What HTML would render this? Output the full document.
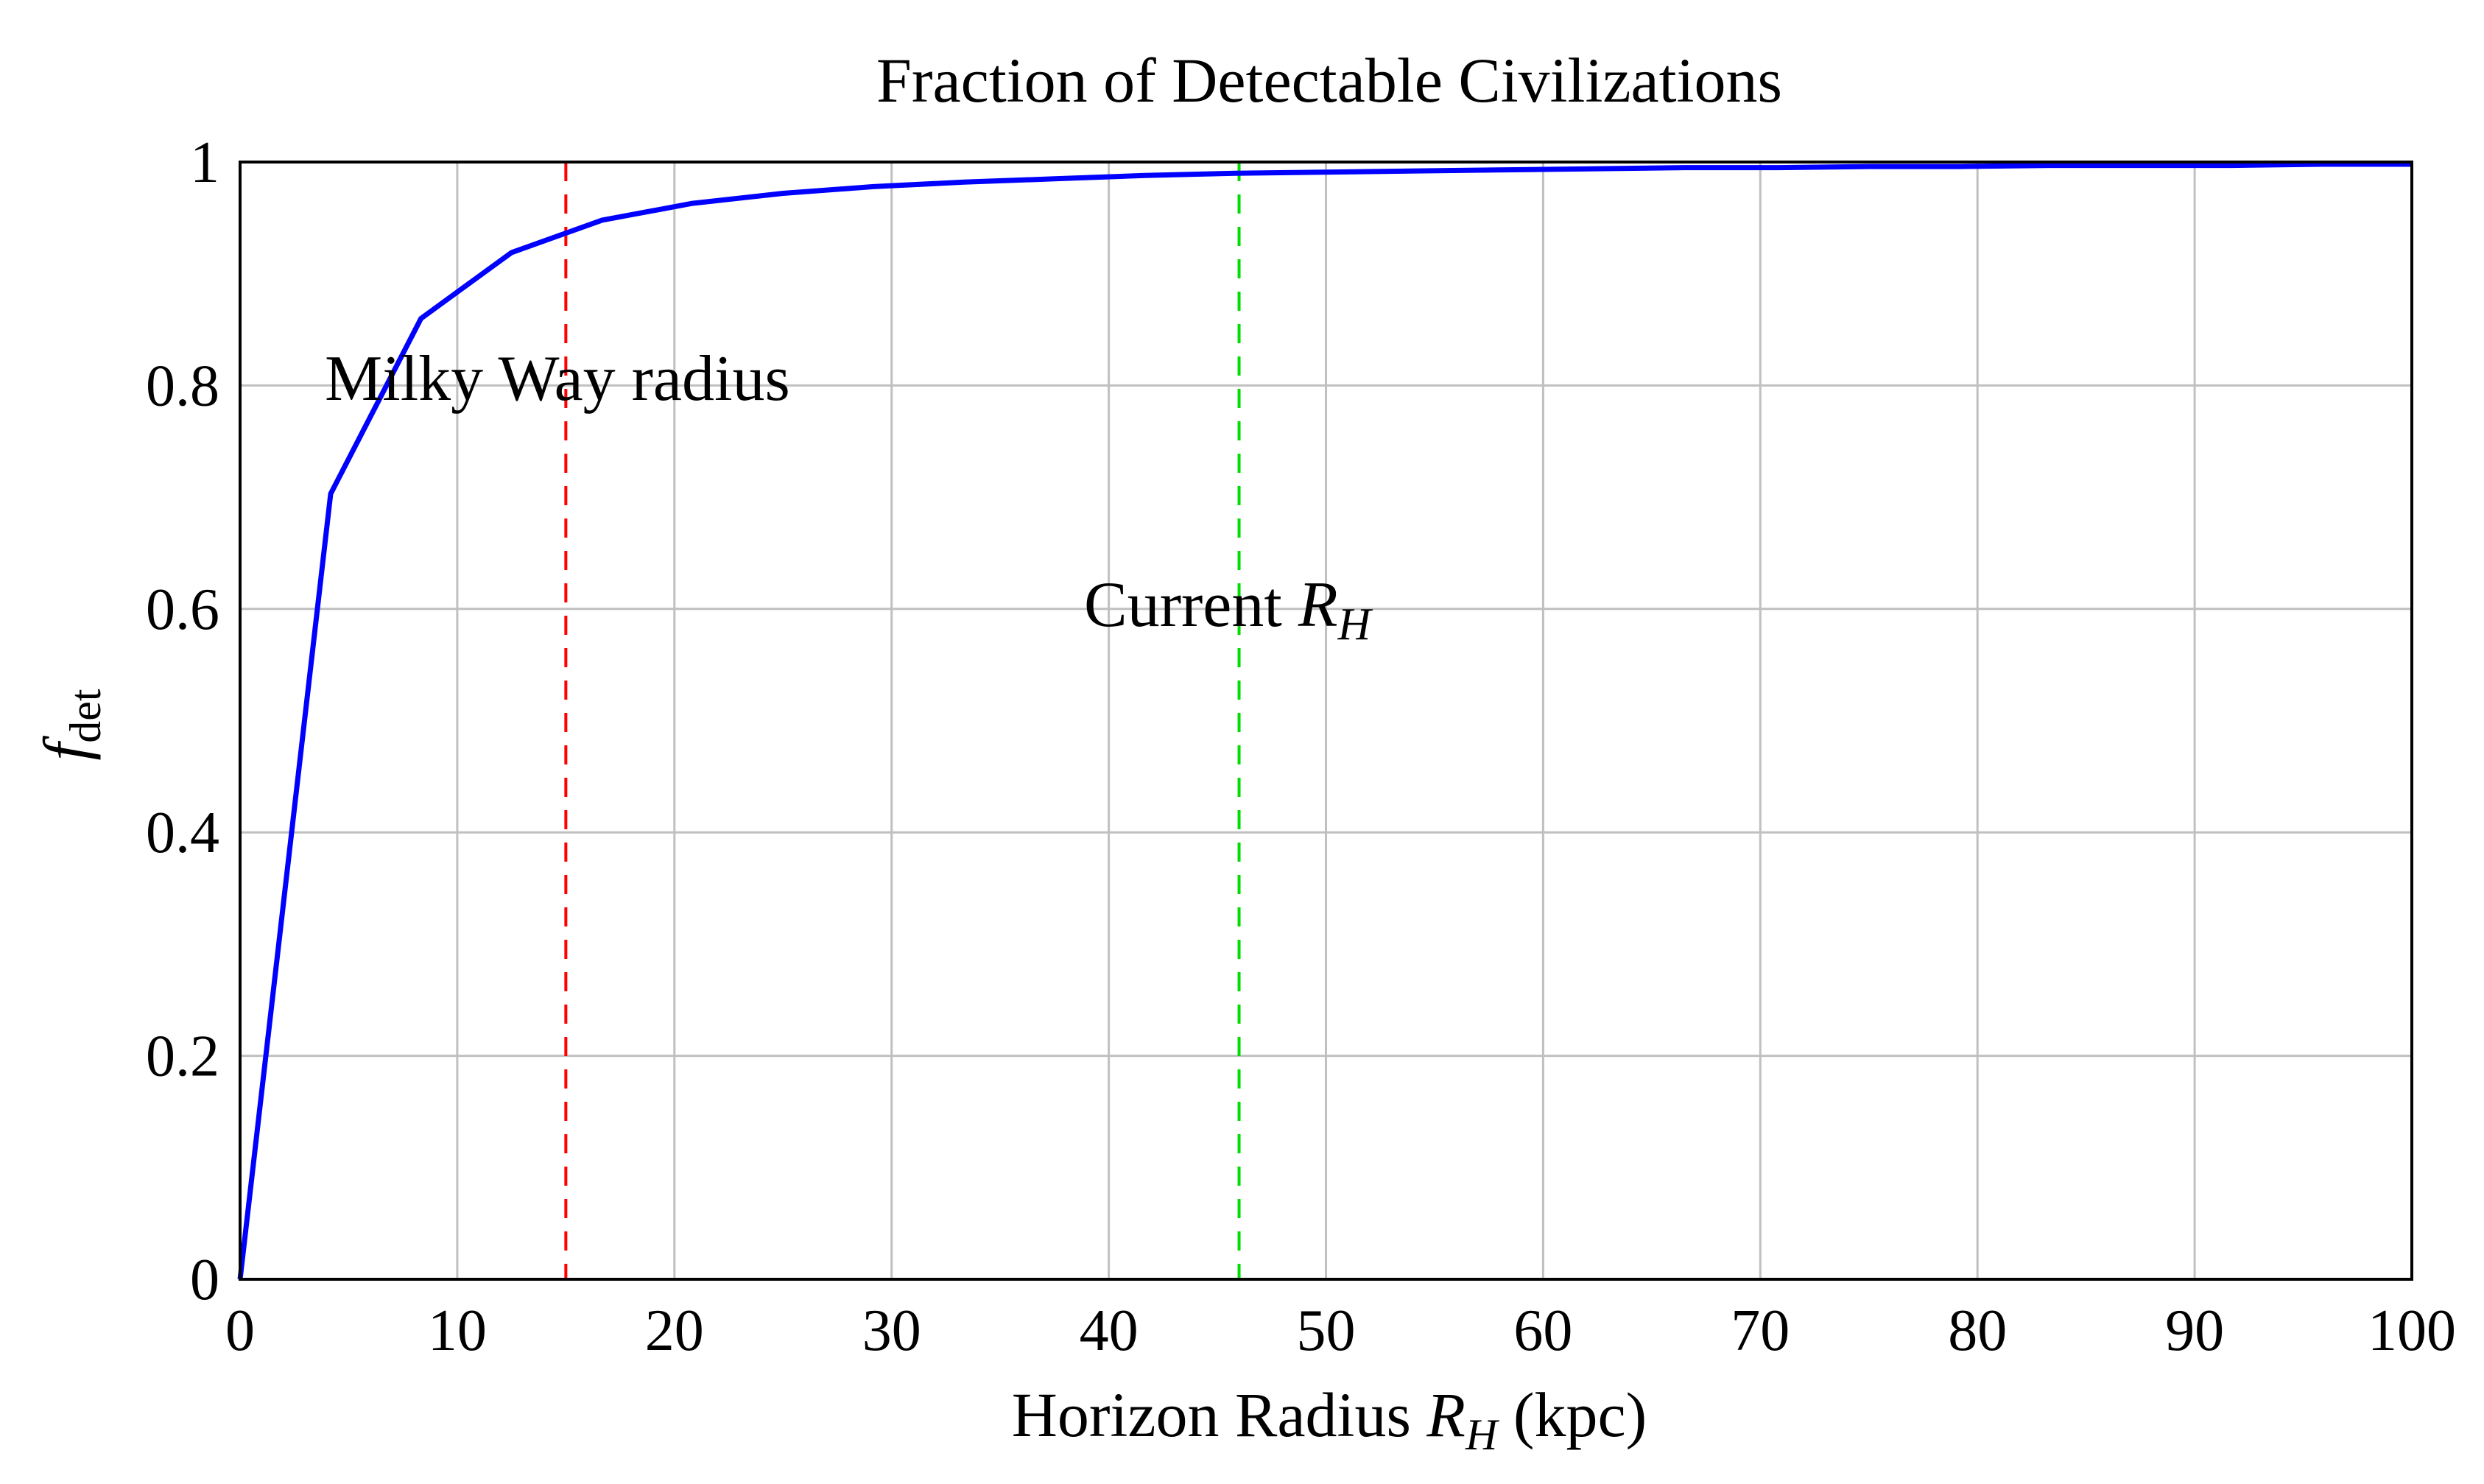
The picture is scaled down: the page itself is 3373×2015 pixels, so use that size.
<!DOCTYPE html>
<html><head><meta charset="utf-8"><style>
html,body{margin:0;padding:0;background:#fff;}
svg{display:block;font-family:"Liberation Serif",serif;}
</style></head><body>
<svg id="chart" width="3373" height="2015" viewBox="0 0 3373 2015" xmlns="http://www.w3.org/2000/svg">
<text x="1805" y="138" font-size="86" text-anchor="middle">Fraction of Detectable Civilizations</text>
<g id="grid"></g>
<g id="ticks"></g>
<g id="refs"></g>
<g id="series"></g>
<rect x="326" y="220" width="2949" height="1517" fill="none" stroke="#000" stroke-width="4"/>
<text x="441" y="543" font-size="88">Milky Way radius</text>
<text x="1472" y="850" font-size="88">Current <tspan font-style="italic">R</tspan><tspan font-style="italic" font-size="62" dy="18">H</tspan></text>
<text x="1805" y="1950" font-size="86" text-anchor="middle">Horizon Radius <tspan font-style="italic">R</tspan><tspan font-style="italic" font-size="60" dy="18">H</tspan><tspan dy="-18"> (kpc)</tspan></text>
<text transform="translate(118,984) rotate(-90)" font-size="86" text-anchor="middle"><tspan font-style="italic">f</tspan><tspan font-size="60" dy="18">det</tspan></text>
</svg>
<script>
const xTicks=[0,10,20,30,40,50,60,70,80,90,100];
const yTicks=[0,0.2,0.4,0.6,0.8,1];
const yTickLabels=["0","0.2","0.4","0.6","0.8","1"];
const seriesX=[0,4.17,8.33,12.5,16.67,20.83,25,29.17,33.33,37.5,41.67,45.83,50,54.17,58.33,62.5,66.67,70.83,75,79.17,83.33,87.5,91.67,95.83,100];
const seriesY=[0,0.703,0.860,0.919,0.948,0.963,0.972,0.978,0.982,0.985,0.988,0.990,0.991,0.992,0.993,0.994,0.995,0.995,0.996,0.996,0.997,0.997,0.997,0.998,0.998];
const refX=[15,46];
const refColors=["#ff0000","#00dd00"];
const X0=326,X1=3275,Y0=1737,Y1=220;
const sx=v=>X0+(v-0)/(100-0)*(X1-X0);
const sy=v=>Y0-(v-0)/(1-0)*(Y0-Y1);
const NS="http://www.w3.org/2000/svg";
function mk(t,a,p){const e=document.createElementNS(NS,t);for(const k in a)e.setAttribute(k,a[k]);p.appendChild(e);return e;}
const grid=document.getElementById('grid'),ticks=document.getElementById('ticks');
xTicks.forEach((v,i)=>{
  const l=mk('line',{x1:sx(v),x2:sx(v),y1:Y1,y2:Y0,stroke:'#c0c0c0','stroke-width':3},grid);
  
  
  const t=mk('text',{x:sx(v),y:1833,'font-size':80,'text-anchor':'middle'},ticks);
  t.textContent=String(v);
  
  
});
yTicks.forEach((v,i)=>{
  const l=mk('line',{x1:X0,x2:X1,y1:sy(v),y2:sy(v),stroke:'#c0c0c0','stroke-width':3},grid);
  
  
  const t=mk('text',{x:298,y:sy(v)+27,'font-size':80,'text-anchor':'end'},ticks);
  t.textContent=yTickLabels[i];
  
  
});
const refs=document.getElementById('refs');
refX.forEach((v,i)=>{
  const l=mk('line',{x1:sx(v),x2:sx(v),y1:Y1,y2:Y0,stroke:refColors[i],'stroke-width':4,'stroke-dasharray':'26 18'},refs);
  
  
});
const pts=seriesX.map((x,i)=>sx(x).toFixed(1)+','+sy(seriesY[i]).toFixed(1)).join(' ');
const pl=mk('polyline',{points:pts,fill:'none',stroke:'#0000ff','stroke-width':7,'stroke-linejoin':'round'},document.getElementById('series'));


</script>
</body></html>
